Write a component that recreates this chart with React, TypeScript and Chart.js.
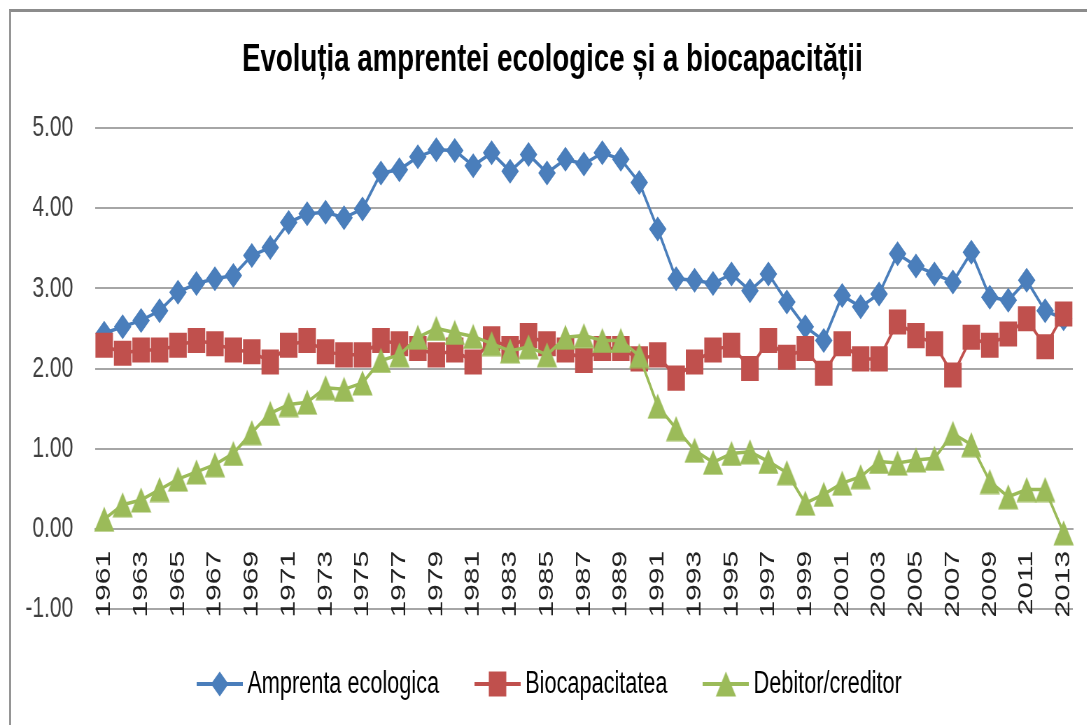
import React, { useEffect, useRef } from "react";
import { Chart, registerables } from "chart.js";

Chart.register(...registerables);

// ---- data ----
const years: string[] = [
  "1961", "1962", "1963", "1964", "1965", "1966", "1967", "1968", "1969", "1970",
  "1971", "1972", "1973", "1974", "1975", "1976", "1977", "1978", "1979", "1980",
  "1981", "1982", "1983", "1984", "1985", "1986", "1987", "1988", "1989", "1990",
  "1991", "1992", "1993", "1994", "1995", "1996", "1997", "1998", "1999", "2000",
  "2001", "2002", "2003", "2004", "2005", "2006", "2007", "2008", "2009", "2010",
  "2011", "2012", "2013",
];

const amprentaEcologica: number[] = [
  2.44, 2.52, 2.6, 2.72, 2.95, 3.06, 3.12, 3.16, 3.41, 3.51,
  3.82, 3.93, 3.95, 3.88, 3.99, 4.44, 4.48, 4.64, 4.73, 4.72,
  4.53, 4.69, 4.46, 4.67, 4.44, 4.61, 4.55, 4.69, 4.61, 4.32,
  3.74, 3.12, 3.1, 3.06, 3.18, 2.97, 3.18, 2.83, 2.52, 2.35,
  2.91, 2.77, 2.93, 3.43, 3.28, 3.18, 3.08, 3.45, 2.89, 2.85,
  3.1, 2.72, 2.62,
];

const biocapacitatea: number[] = [
  2.29, 2.19, 2.23, 2.23, 2.29, 2.35, 2.31, 2.23, 2.21, 2.08,
  2.29, 2.35, 2.21, 2.17, 2.17, 2.35, 2.31, 2.25, 2.17, 2.23,
  2.08, 2.37, 2.25, 2.41, 2.31, 2.23, 2.1, 2.25, 2.25, 2.12,
  2.17, 1.88, 2.08, 2.23, 2.29, 2.0, 2.35, 2.14, 2.25, 1.94,
  2.31, 2.12, 2.12, 2.58, 2.41, 2.31, 1.92, 2.39, 2.29, 2.43,
  2.62, 2.27, 2.68,
];

const debitorCreditor: number[] = [
  0.12, 0.3, 0.36, 0.49, 0.62, 0.71, 0.8, 0.94, 1.2, 1.44,
  1.55, 1.58, 1.76, 1.74, 1.82, 2.1, 2.17, 2.39, 2.5, 2.45,
  2.4, 2.31, 2.22, 2.27, 2.17, 2.39, 2.41, 2.35, 2.35, 2.16,
  1.53, 1.25, 0.98, 0.83, 0.94, 0.96, 0.84, 0.7, 0.32, 0.43,
  0.57, 0.65, 0.84, 0.82, 0.86, 0.88, 1.19, 1.05, 0.59, 0.4,
  0.49, 0.49, -0.05,
];

const seriesLabels: string[] = ["Amprenta ecologica", "Biocapacitatea", "Debitor/creditor"];
const TITLE = "Evoluția amprentei ecologice și a biocapacității";
const Y_MIN = -1;
const Y_MAX = 5;
const Y_STEP = 1;

// ---- styling ----
const BLUE = "#4A7EBB";
const RED = "#C0504D";
const GREEN = "#9BBB59";
const FONT = "'Liberation Sans', Arial, sans-serif";
const SX = 0.7; // horizontal compression of the original picture
const PAGE_W = 1105;
const PAGE_H = 725;
const CANVAS_W = Math.round(PAGE_W / SX);

function drawShape(ctx: CanvasRenderingContext2D, kind: string, cx: number, cy: number) {
  ctx.beginPath();
  if (kind === "diamond") {
    const r = 12.5;
    ctx.moveTo(cx, cy - r);
    ctx.lineTo(cx + r, cy);
    ctx.lineTo(cx, cy + r);
    ctx.lineTo(cx - r, cy);
  } else if (kind === "square") {
    const h = 12.5;
    ctx.rect(cx - h, cy - h, 2 * h, 2 * h);
  } else {
    const hw = 14.5;
    const hh = 12.5;
    ctx.moveTo(cx, cy - hh);
    ctx.lineTo(cx + hw, cy + hh);
    ctx.lineTo(cx - hw, cy + hh);
  }
  ctx.closePath();
  ctx.fill();
}

function makeTriangle(color: string): HTMLCanvasElement {
  const c = document.createElement("canvas");
  c.width = 30;
  c.height = 26;
  const ctx = c.getContext("2d") as CanvasRenderingContext2D;
  ctx.fillStyle = color;
  drawShape(ctx, "triangle", 15, 13);
  return c;
}

function makeIcon(color: string, kind: string): HTMLCanvasElement {
  const c = document.createElement("canvas");
  c.width = 66;
  c.height = 36;
  const ctx = c.getContext("2d") as CanvasRenderingContext2D;
  const cx = 33;
  const cy = 18;
  ctx.strokeStyle = color;
  ctx.lineWidth = 4;
  ctx.beginPath();
  ctx.moveTo(0, cy);
  ctx.lineTo(66, cy);
  ctx.stroke();
  ctx.fillStyle = color;
  drawShape(ctx, kind, cx, cy);
  return c;
}

export default function App() {
  const canvasRef = useRef<HTMLCanvasElement | null>(null);

  useEffect(() => {
    const canvas = canvasRef.current;
    if (!canvas) return;
    const icons = [makeIcon(BLUE, "diamond"), makeIcon(RED, "square"), makeIcon(GREEN, "triangle")];
    const triangle = makeTriangle(GREEN);
    const colors = [BLUE, RED, GREEN];

    const chart = new Chart(canvas, {
      type: "line",
      data: {
        labels: years,
        datasets: [
          {
            label: seriesLabels[0],
            data: amprentaEcologica,
            borderColor: BLUE,
            backgroundColor: BLUE,
            borderWidth: 3.5,
            pointStyle: "rectRot",
            pointRadius: 12.5,
            pointBorderWidth: 0,
            pointBackgroundColor: BLUE,
            tension: 0,
            order: 2,
          },
          {
            label: seriesLabels[1],
            data: biocapacitatea,
            borderColor: RED,
            backgroundColor: RED,
            borderWidth: 3.5,
            pointStyle: "rect",
            pointRadius: 17.7,
            pointBorderWidth: 0,
            pointBackgroundColor: RED,
            tension: 0,
            order: 1,
          },
          {
            label: seriesLabels[2],
            data: debitorCreditor,
            borderColor: GREEN,
            backgroundColor: GREEN,
            borderWidth: 3.5,
            pointStyle: triangle,
            pointRadius: 14,
            pointBorderWidth: 0,
            pointBackgroundColor: GREEN,
            tension: 0,
            order: 0,
          },
        ],
      },
      options: {
        responsive: false,
        animation: false,
        devicePixelRatio: 1,
        layout: { padding: { left: 20, right: 20.4, top: 10, bottom: 15.5 } },
        plugins: {
          title: {
            display: true,
            text: TITLE,
            color: "#000000",
            font: { family: FONT, size: 39.5, weight: "bold" },
            padding: { top: 26, bottom: 44.6 },
          },
          legend: {
            display: true,
            position: "bottom",
            labels: {
              usePointStyle: true,
              pointStyleWidth: 48,
              padding: 59.5,
              color: "#333333",
              font: { family: FONT, size: 31 },
              generateLabels: () =>
                seriesLabels.map((text, i) => ({
                  text,
                  pointStyle: icons[i],
                  fillStyle: colors[i],
                  strokeStyle: colors[i],
                  lineWidth: 0,
                  hidden: false,
                  datasetIndex: i,
                })),
            },
          },
          tooltip: { enabled: false },
        },
        scales: {
          x: {
            type: "category",
            offset: true,
            position: { y: 0 },
            grid: { display: false, drawTicks: false },
            border: { display: true, color: "#a6a6a6", width: 2 },
            ticks: {
              autoSkip: false,
              minRotation: 90,
              maxRotation: 90,
              padding: 22,
              color: "#222222",
              font: { family: FONT, size: 30 },
              callback: (_v: any, idx: number) => (idx % 2 === 0 ? years[idx] : ""),
            },
          },
          y: {
            position: "left",
            min: Y_MIN,
            max: Y_MAX,
            afterFit: (s: any) => {
              s.width = 115.7;
            },
            grid: { color: "#a6a6a6", lineWidth: 2, drawTicks: false },
            border: { display: false },
            ticks: {
              stepSize: Y_STEP,
              padding: 31,
              color: "#404040",
              font: { family: FONT, size: 30 },
              callback: (v: any) => Number(v).toFixed(2),
            },
          },
          y2: {
            position: "right",
            min: Y_MIN,
            max: Y_MAX,
            afterFit: (s: any) => {
              s.width = 25.6;
            },
            grid: { display: false, drawTicks: false },
            border: { display: false },
            ticks: { display: false },
          },
        },
      },
    } as any);

    return () => chart.destroy();
  }, []);

  return (
    <div
      style={{
        position: "fixed",
        left: 0,
        top: 0,
        width: 1087,
        height: 725,
        overflow: "hidden",
        background: "#ffffff",
      }}
    >
      <div
        style={{
          position: "absolute",
          left: 9,
          top: 9,
          width: 1200,
          height: 800,
          boxSizing: "border-box",
          borderTop: "3px solid #8c8c8c",
          borderLeft: "2px solid #959595",
        }}
      />
      <canvas
        ref={canvasRef}
        width={CANVAS_W}
        height={PAGE_H}
        style={{
          position: "absolute",
          left: 0,
          top: 0,
          width: PAGE_W + "px",
          height: PAGE_H + "px",
        }}
      />
    </div>
  );
}
